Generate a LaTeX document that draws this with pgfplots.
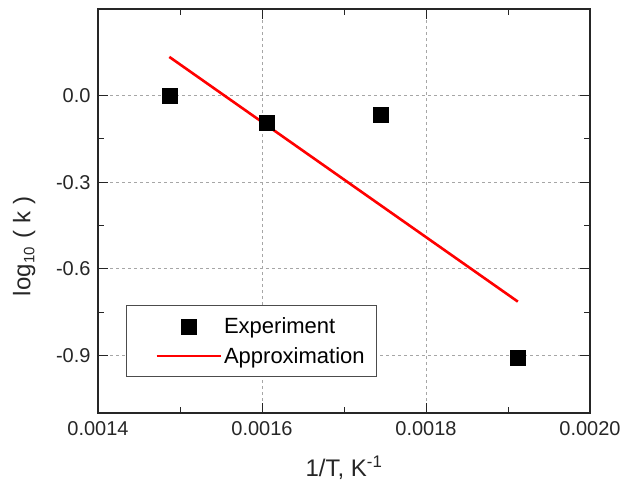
\documentclass[border=0pt]{standalone}
\usepackage{pgfplots}
\pgfplotsset{compat=1.18}
\usepackage{fontspec}
\setmainfont{Liberation Sans}
\usetikzlibrary{calc}

% legend pictures: a single centred mark, or a plain line segment,
% both set in from the left edge of the legend box
\pgfplotsset{
  markleg/.style={legend image code/.code={\path (0pt,0pt); \draw[##1, mark repeat=2, mark phase=2] plot coordinates {(19pt,0pt) (51pt,0pt) (83pt,0pt)};}},
  lineleg/.style={legend image code/.code={\path (0pt,0pt); \draw[##1] (19pt,0pt) -- (83pt,0pt);}},
}

\begin{document}
\begin{tikzpicture}
\begin{axis}[
  scale only axis,
  width=492pt, height=404pt,
  xmin=0.0014, xmax=0.0020,
  ymin=-1.1, ymax=0.3,
  xtick={0.0014,0.0016,0.0018,0.0020},
  ytick={-0.9,-0.6,-0.3,0.0},
  minor x tick num=1,
  minor y tick num=1,
  scaled x ticks=false,
  scaled y ticks=false,
  xticklabel style={/pgf/number format/fixed,/pgf/number format/precision=4,/pgf/number format/fixed zerofill, yshift=-5pt},
  yticklabel style={/pgf/number format/fixed,/pgf/number format/precision=1,/pgf/number format/fixed zerofill, xshift=-4pt},
  /pgf/number format/assume math mode=true,
  tick align=inside,
  major tick length=10pt,
  minor tick length=6pt,
  tick style={black!85, line width=1pt},
  axis line style={black!85, line width=1.4pt},
  ticklabel style={font=\fontsize{20}{22}\selectfont, text=black!85},
  grid=major,
  major grid style={gray!70, dashed, line width=0.8pt},
  xlabel={1/T, K\textsuperscript{-1}},
  ylabel={log\raisebox{-4pt}{\fontsize{15}{16}\selectfont 10}\hspace{9pt}(\hspace{7pt}k\hspace{7pt})},
  label style={font=\fontsize{24}{26}\selectfont, text=black!85},
  xlabel style={at={(axis description cs:0.5,-0.136)}, anchor=center},
  ylabel style={at={(axis description cs:-0.150,0.413)}, anchor=center},
  legend style={at={(axis description cs:0.057,0.089)}, anchor=south west,
    draw=black!70, line width=0.8pt, font=\fontsize{22}{24}\selectfont,
    inner xsep=10pt, inner ysep=10pt, row sep=8pt,
    /tikz/every even column/.append style={column sep=0pt}},
  legend cell align=left,
]
\addplot[only marks, mark=square*, mark size=7.5pt, black, markleg]
  coordinates {
  (0.001488, 0.000)
  (0.001606, -0.093)
  (0.001745, -0.066)
  (0.001912, -0.910)
};
\addlegendentry{Experiment}
\addplot[red, line width=2.6pt, no marks, lineleg]
  coordinates {
  (0.001487, 0.134)
  (0.001912, -0.714)
};
\addlegendentry{Approximation}
\end{axis}
\pgfresetboundingbox
\path ($(current axis.south west)+(-98pt,-70pt)$) rectangle ($(current axis.north east)+(32pt,9pt)$);
\end{tikzpicture}
\end{document}
